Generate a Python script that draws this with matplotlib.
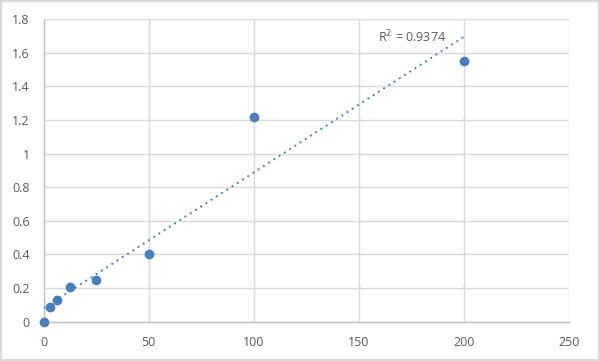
import numpy as np
import matplotlib
matplotlib.use('Agg')
import matplotlib.pyplot as plt

# standard curve values
conc = [0, 3.125, 6.25, 12.5, 25, 50, 100, 200]
od = [0.0, 0.089, 0.129, 0.205, 0.246, 0.403, 1.22, 1.551]
xticks = [0, 50, 100, 150, 200, 250]
yticks = [0, 0.2, 0.4, 0.6, 0.8, 1, 1.2, 1.4, 1.6, 1.8]
ytick_labels = ['0', '0.2', '0.4', '0.6', '0.8', '1', '1.2', '1.4', '1.6', '1.8']
r2_text = 'R$^2$ = 0.9374'

blue = '#4a7ebb'
grid = '#d9d9d9'
txt = '#595959'

plt.rcParams['font.family'] = ['Open Sans', 'DejaVu Sans']

fig = plt.figure(figsize=(6.0, 3.61), dpi=100)
ax = fig.add_axes([43.5 / 600, 1 - 321.7 / 361, (569 - 43.5) / 600, (321.7 - 19) / 361])

# linear trend line
slope, intercept = np.polyfit(conc, od, 1)
xt = np.array([0, 200])
ax.plot(xt, slope * xt + intercept, linestyle=(0, (1, 2.2)), color=blue, lw=1.4, zorder=3)

ax.scatter(conc, od, s=36, color=blue, zorder=4, clip_on=False)

ax.set_xlim(0, 250)
ax.set_ylim(0, 1.8)
ax.set_xticks(xticks)
ax.set_yticks(yticks)
ax.set_yticklabels(ytick_labels)
ax.grid(True, color=grid, lw=1)
ax.set_axisbelow(True)
for s in ['top', 'right']:
    ax.spines[s].set_visible(False)
for s in ['left', 'bottom']:
    ax.spines[s].set_color('#bfbfbf')
    ax.spines[s].set_linewidth(1)
ax.tick_params(length=0, colors=txt, labelsize=9, pad=10)

ax.text(159, 1.66, r2_text, fontsize=9, color=txt, zorder=2)

# outer chart border
fig.patches.append(plt.Rectangle((0.002, 0.003), 0.996, 0.994, transform=fig.transFigure,
                                 fill=False, edgecolor='#d9d9d9', lw=1.5))

plt.savefig('out.png', dpi=100)
